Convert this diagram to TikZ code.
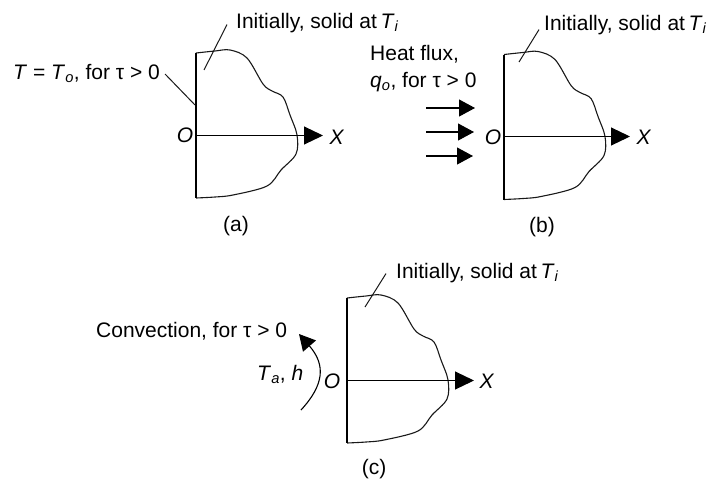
\documentclass[tikz,border=0pt]{standalone}
\usepackage{fontspec}
\setmainfont{Liberation Sans}
\usetikzlibrary{arrows.meta, positioning}
\newcommand{\Tsub}[1]{\textit{T}\textsubscript{\textit{#1}}}
\tikzset{
  lab/.style={inner sep=0pt, anchor=base west, font=\fontsize{21}{27}\selectfont, text=black},
  ctr/.style={inner sep=0pt, font=\fontsize{21}{25}\selectfont, text=black},
  leader/.style={line width=1pt, black!90},
  wall/.style={line width=1.4pt},
  axisline/.style={line width=1.1pt, -{Triangle[length=19pt,width=18pt]}},
  flux/.style={line width=1.1pt, -{Triangle[length=16pt,width=17pt]}},
  solidbody/.pic={
    % Solide
    \draw[line width=1.1pt, black!90] plot[smooth, tension=0.55] coordinates {(196,53) (215,51) (230,50) (247,58) (263,84) (272,91) (283,97) (290,115) (297,135) (296,154) (281,170) (267,186) (233,195) (215,197) (196,198)};
    \draw[wall] (196,53) -- (196,198);
  }
}
\begin{document}
\begin{tikzpicture}[x=1pt, y=-1pt]
  \useasboundingbox (0,0) rectangle (708,479);

  % Cas (a)
  \pic at (0,0) {solidbody};
  \draw[line width=2.2pt] (196,54) -- (196,105);
  \node[lab] (inita) at (236,28) {Initially, solid at\,\Tsub{i}};
  \node[lab] (conda) at (13,79) {\textit{T} = \Tsub{o}, for τ > 0};
  \node[ctr] (oa) at (185,135) {\textit{O}};
  \node[ctr] (xa) at (337,137) {\textit{X}};
  \node[ctr] (capa) at (236,226) {(a)};
  \coordinate (oax) at (196,135.5);
  \coordinate (tipa) at (323,135.5);
  \coordinate (ia) at (204,70);
  \coordinate (wa) at (195,105);
  \draw[axisline] (oax) -- (tipa);
  \draw[leader] (inita.west) ++(-9,2) -- (ia);
  \draw[leader] (conda.east) ++(5,1) -- (wa);

  % Cas (b)
  \pic at (308,1.5) {solidbody};
  \node[lab] (initb) at (544,30) {Initially, solid at\,\Tsub{i}};
  \node[lab, align=left, anchor=north west] (fluxb) at (370,45) {Heat flux,\\\textit{q}\textsubscript{\textit{o}}, for τ > 0};
  \node[ctr] (ob) at (493,137) {\textit{O}};
  \node[ctr] (xb) at (644,137) {\textit{X}};
  \node[ctr] (capb) at (542,227) {(b)};
  \coordinate (obx) at (504,136.5);
  \coordinate (tipb) at (630,136.5);
  \coordinate (ib) at (519,62);
  \draw[axisline] (obx) -- (tipb);
  \draw[leader] (initb.west) ++(-5,5) -- (ib);
  \foreach \yy/\xend [count=\i] in {108/475, 132/474, 156/473} {
    \coordinate (fs\i) at (426,\yy);
    \coordinate (fe\i) at (\xend,\yy);
    \draw[flux] (fs\i) -- (fe\i);
  }

  % Cas (c)
  \pic at (151,245) {solidbody};
  \node[lab] (initc) at (396,278) {Initially, solid at\,\Tsub{i}};
  \node[lab] (convc) at (96,337) {Convection, for τ > 0};
  \node[lab] (tah) at (257,380) {\Tsub{a}, \textit{h}};
  \node[ctr] (oc) at (332,381) {\textit{O}};
  \node[ctr] (xc) at (487,381) {\textit{X}};
  \node[ctr] (capc) at (374,469) {(c)};
  \coordinate (ocx) at (347,380.5);
  \coordinate (tipc) at (474,380.5);
  \coordinate (ic) at (365,307);
  \coordinate (cs) at (301,410);
  \coordinate (ce) at (299,334);
  \draw[axisline] (ocx) -- (tipc);
  \draw[leader] (initc.west) ++(-10,1) -- (ic);
  \draw[line width=1.1pt, -{Triangle[length=16pt,width=17pt]}] (cs) .. controls (324,385) and (326,365) .. (ce);
\end{tikzpicture}
\end{document}
